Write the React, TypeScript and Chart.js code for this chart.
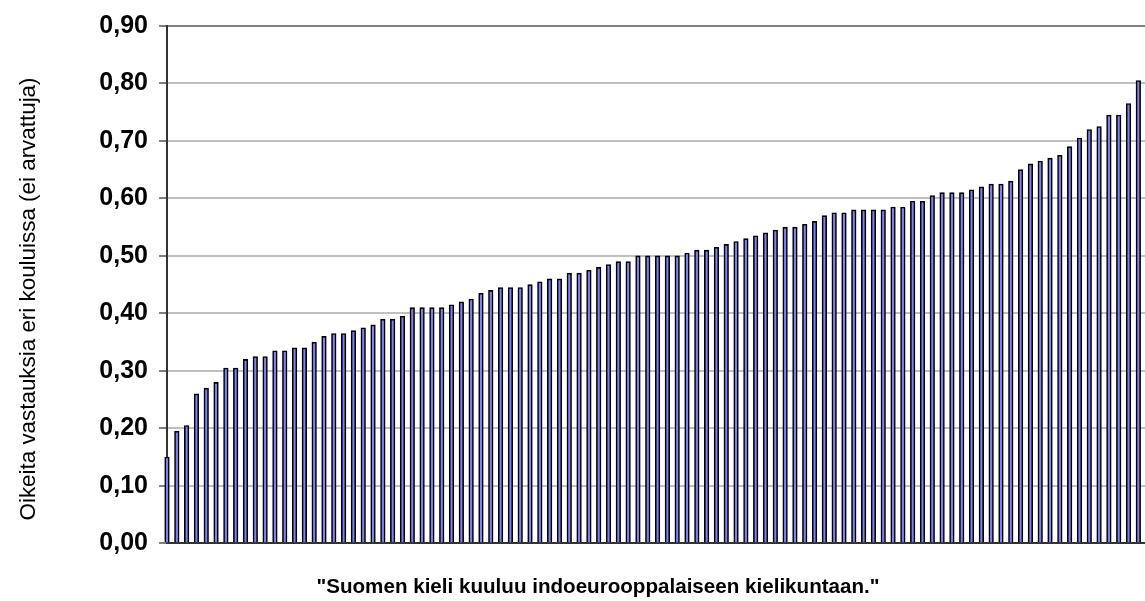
import React, { useEffect, useRef } from "react";
import { Chart, registerables } from "chart.js";

Chart.register(...registerables);

// Share of correct answers per school, sorted ascending (100 schools)
const schoolValues: number[] = [
  0.15, 0.195, 0.205, 0.26, 0.27, 0.28, 0.305, 0.305, 0.32, 0.325,
  0.325, 0.335, 0.335, 0.34, 0.34, 0.35, 0.36, 0.365, 0.365, 0.37,
  0.375, 0.38, 0.39, 0.39, 0.395, 0.41, 0.41, 0.41, 0.41, 0.415,
  0.42, 0.425, 0.435, 0.44, 0.445, 0.445, 0.445, 0.45, 0.455, 0.46,
  0.46, 0.47, 0.47, 0.475, 0.48, 0.485, 0.49, 0.49, 0.5, 0.5,
  0.5, 0.5, 0.5, 0.505, 0.51, 0.51, 0.515, 0.52, 0.525, 0.53,
  0.535, 0.54, 0.545, 0.55, 0.55, 0.555, 0.56, 0.57, 0.575, 0.575,
  0.58, 0.58, 0.58, 0.58, 0.585, 0.585, 0.595, 0.595, 0.605, 0.61,
  0.61, 0.61, 0.615, 0.62, 0.625, 0.625, 0.63, 0.65, 0.66, 0.665,
  0.67, 0.675, 0.69, 0.705, 0.72, 0.725, 0.745, 0.745, 0.765, 0.805,
];

const yTickLabels: string[] = [
  "0,00", "0,10", "0,20", "0,30", "0,40", "0,50", "0,60", "0,70", "0,80", "0,90",
];

const yAxisTitle = "Oikeita vastauksia eri kouluissa (ei arvattuja)";
const xAxisTitle = '"Suomen kieli kuuluu indoeurooppalaiseen kielikuntaan."';

const FONT = "'Liberation Sans', Arial, Helvetica, sans-serif";

export default function App() {
  const ref = useRef<HTMLCanvasElement | null>(null);

  useEffect(() => {
    if (!ref.current) return;

    const titlesPlugin = {
      id: "titlesPlugin",
      afterDraw(chart: any) {
        const ctx = chart.ctx as CanvasRenderingContext2D;
        ctx.save();
        ctx.fillStyle = "#000";
        // y-axis title (rotated)
        ctx.translate(35, 299);
        ctx.rotate(-Math.PI / 2);
        ctx.font = `22.4px ${FONT}`;
        ctx.textAlign = "center";
        ctx.textBaseline = "alphabetic";
        ctx.fillText(yAxisTitle, 0, 0);
        ctx.restore();

        ctx.save();
        ctx.fillStyle = "#000";
        ctx.font = `bold 20.6px ${FONT}`;
        ctx.textAlign = "center";
        ctx.textBaseline = "alphabetic";
        ctx.fillText(xAxisTitle, 598, 593);
        ctx.restore();
      },
    };

    const chart = new Chart(ref.current, {
      type: "bar",
      data: {
        datasets: [
          {
            data: schoolValues.map((v, i) => ({ x: i, y: v })),
            backgroundColor: "#8080f0",
            borderColor: "#000000",
            borderWidth: 1.6,
            barThickness: 4.6,
            clip: false as any,
          },
        ],
      },
      options: {
        animation: false,
        responsive: false,
        layout: { padding: { left: 0, right: 0, top: 22.3, bottom: 57.7 } },
        plugins: {
          legend: { display: false },
          tooltip: { enabled: false },
          title: { display: false },
        },
        scales: {
          x: {
            type: "linear",
            offset: false,
            min: 0,
            max: 99.68,
            ticks: { display: false },
            grid: { display: false, offset: false },
            border: { display: true, color: "#333333", width: 2 },
            afterFit: (s: any) => {
              s.height = 0;
            },
          },
          y: {
            min: 0,
            max: 0.9,
            ticks: {
              stepSize: 0.1,
              padding: 11,
              color: "#000",
              font: { family: FONT, size: 25, weight: "bold" },
              callback: (_v: any, idx: number) => yTickLabels[idx],
            },
            grid: {
              color: (c: any) =>
                c.tick && c.tick.value > 0.895 ? "#808080" : "#c0c0c0",
              lineWidth: 2,
              tickLength: 8,
              tickColor: "#000",
              tickWidth: 1,
            },
            border: { display: true, color: "#333333", width: 2 },
            afterFit: (s: any) => {
              s.width = 167;
            },
          },
        },
      },
      plugins: [titlesPlugin],
    });

    return () => chart.destroy();
  }, []);

  return (
    <div style={{ position: "fixed", left: 0, top: 0, width: 1145, height: 601, background: "#fff" }}>
      <canvas ref={ref} width={1145} height={601} />
    </div>
  );
}
